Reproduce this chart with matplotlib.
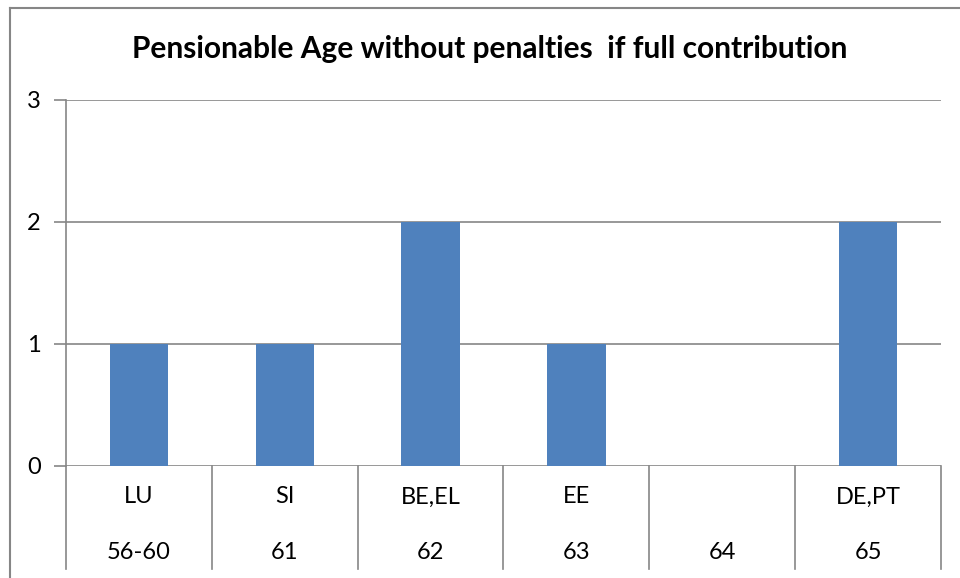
import matplotlib
matplotlib.use("Agg")
import matplotlib.pyplot as plt
from matplotlib.lines import Line2D

plt.rcParams['font.family'] = ['Lato', 'DejaVu Sans']

title = "Pensionable Age without penalties  if full contribution"
countries = ["LU", "SI", "BE,EL", "EE", "", "DE,PT"]
ages = ["56-60", "61", "62", "63", "64", "65"]
counts = [1, 1, 2, 1, 0, 2]
y_ticks = [0, 1, 2, 3]

bar_color = "#4F81BD"
line_color = "#868686"
label_size = 17

W, H = 960, 578
fig = plt.figure(figsize=(W / 100, H / 100), dpi=100)
ax = fig.add_axes([66 / W, 1 - 466 / H, 875 / W, 366 / H])

x = list(range(len(countries)))
ax.bar(x, counts, width=0.4, color=bar_color, zorder=3)

ax.set_xlim(-0.5, len(countries) - 0.5)
ax.set_ylim(0, 3)
ax.set_yticks(y_ticks)
ax.set_yticklabels([str(v) for v in y_ticks], fontsize=label_size)
ax.tick_params(axis='y', length=9, width=1.2, color=line_color, pad=9)
ax.set_xticks([])
for s in ["top", "right", "bottom"]:
    ax.spines[s].set_visible(False)
ax.spines["left"].set_color(line_color)
ax.spines["left"].set_linewidth(1.2)
ax.yaxis.grid(True, color=line_color, linewidth=1.2, zorder=0)
ax.set_axisbelow(True)

# two-level category axis: separators and labels below the plot
sep_depth = 0.845
for b in [i - 0.5 for i in range(len(countries) + 1)]:
    ax.add_line(Line2D([b, b], [0, -sep_depth], color=line_color,
                       linewidth=1.2, clip_on=False))
for i, (c, a) in enumerate(zip(countries, ages)):
    ax.text(i, -0.254, c, ha='center', va='center', fontsize=label_size, clip_on=False)
    ax.text(i, -0.713, a, ha='center', va='center', fontsize=label_size, clip_on=False)

fig.text(490 / W, 1 - 49 / H, title, ha='center', va='center',
         fontsize=21.5, fontweight='bold')

# chart area border (left and top edges)
fig.add_artist(Line2D([9.5 / W, 9.5 / W], [0, 1 - 7.5 / H],
                      transform=fig.transFigure, color=line_color, linewidth=1.5))
fig.add_artist(Line2D([9.5 / W, 1], [1 - 7.5 / H, 1 - 7.5 / H],
                      transform=fig.transFigure, color=line_color, linewidth=1.5))

fig.savefig("out.png", dpi=100, facecolor="white")
